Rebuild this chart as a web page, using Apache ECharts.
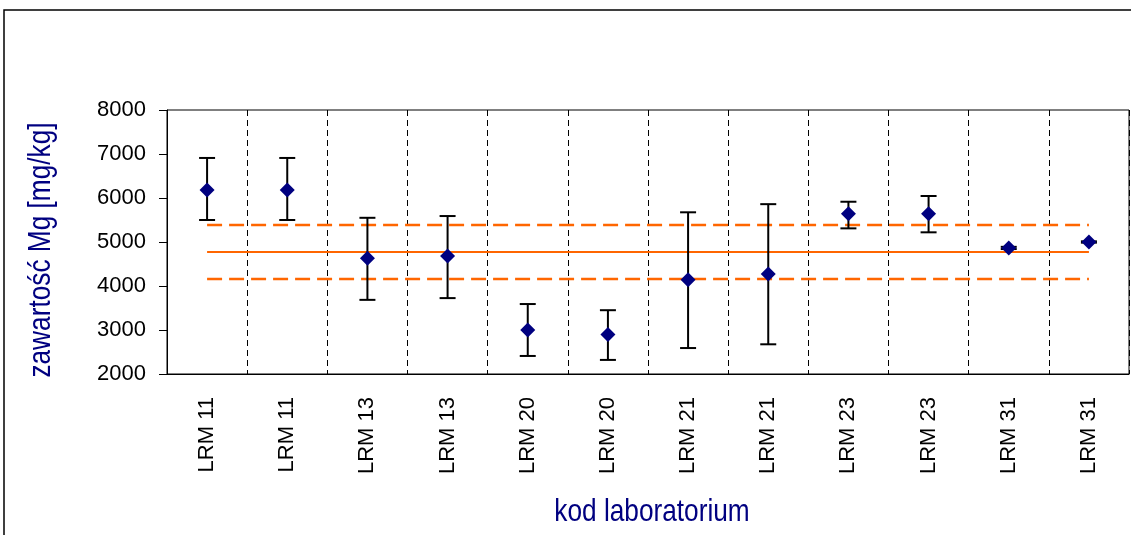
<!DOCTYPE html>
<html>
<head>
<meta charset="utf-8">
<script src="https://cdn.jsdelivr.net/npm/echarts@6/dist/echarts.min.js"></script>
<style>
  html, body { margin: 0; padding: 0; background: #fff; }
  #chart { width: 1131px; height: 535px; }
</style>
</head>
<body>
<div id="chart"></div>
<script>
// kody laboratoriów (oś X)
var labs = ['LRM 11', 'LRM 11', 'LRM 13', 'LRM 13', 'LRM 20', 'LRM 20',
            'LRM 21', 'LRM 21', 'LRM 23', 'LRM 23', 'LRM 31', 'LRM 31'];
// wynik i granice niepewności
var wynik = [6180, 6180, 4630, 4680, 3000, 2900, 4140, 4270, 5640, 5640, 4865, 5000];
var gora  = [6910, 6910, 5550, 5590, 3590, 3450, 5675, 5860, 5915, 6045, 4890, 5015];
var dol   = [5500, 5500, 3685, 3725, 2410, 2320, 2590, 2675, 5310, 5220, 4840, 4985];
// wartość przypisana i jej przedział
var wartoscOdn = 4770;
var granicaG = 5385;
var granicaD = 4160;
var yTicks = [2000, 3000, 4000, 5000, 6000, 7000, 8000];

var FONT = '"Liberation Sans", Arial, sans-serif';
var NAVY = '#000080';
var ORANGE = '#FF6600';

var errData = [];
for (var i = 0; i < labs.length; i++) {
  errData.push([i, dol[i], gora[i]]);
}

var option = {
  animation: false,
  textStyle: { fontFamily: FONT },
  graphic: [
    {
      type: 'rect',
      shape: { x: 4, y: 10, width: 1200, height: 600 },
      style: { fill: 'none', stroke: '#000', lineWidth: 1.5 },
      silent: true
    },
    // tytuły osi (czcionka zwężona jak w oryginale)
    {
      type: 'text',
      x: 41, y: 250,
      rotation: Math.PI / 2,
      scaleX: 0.82,
      style: {
        text: 'zawartość Mg [mg/kg]',
        fill: NAVY, fontSize: 32, fontFamily: FONT,
        align: 'center', verticalAlign: 'middle'
      }
    },
    {
      type: 'text',
      x: 652, y: 512,
      scaleX: 0.82,
      style: {
        text: 'kod laboratorium',
        fill: NAVY, fontSize: 32, fontFamily: FONT,
        align: 'center', verticalAlign: 'middle'
      }
    }
  ],
  grid: {
    left: 167, right: 2, top: 110, bottom: 161,
    show: true, borderColor: '#000', borderWidth: 1, backgroundColor: 'transparent'
  },
  xAxis: {
    type: 'category',
    data: labs,
    boundaryGap: true,
    axisLine: { show: true, lineStyle: { color: '#000', width: 1 } },
    axisTick: { show: true, inside: true, length: 4, interval: 0, lineStyle: { color: '#000' } },
    axisLabel: { interval: 0, rotate: 90, margin: 23, color: '#000', fontSize: 22, fontFamily: FONT },
    splitLine: { show: true, interval: 0, lineStyle: { color: '#000', width: 1, type: [6, 4] } }
  },
  yAxis: {
    type: 'value',
    min: yTicks[0],
    max: yTicks[yTicks.length - 1],
    interval: 1000,
    axisLine: { show: true, lineStyle: { color: '#000', width: 1 } },
    axisTick: { show: true, length: 8, lineStyle: { color: '#000' } },
    axisLabel: {
      margin: 21, color: '#000', fontSize: 22, fontFamily: FONT,
      formatter: function (v) { return String(v); }
    },
    splitLine: { show: false }
  },
  series: [
    {
      name: 'wartość odniesienia',
      type: 'line',
      data: labs.map(function () { return wartoscOdn; }),
      symbol: 'none',
      lineStyle: { color: ORANGE, width: 2 },
      z: 2
    },
    {
      name: 'granica górna',
      type: 'line',
      data: labs.map(function () { return granicaG; }),
      symbol: 'none',
      lineStyle: { color: ORANGE, width: 2.5, type: [15, 7] },
      z: 2
    },
    {
      name: 'granica dolna',
      type: 'line',
      data: labs.map(function () { return granicaD; }),
      symbol: 'none',
      lineStyle: { color: ORANGE, width: 2.5, type: [15, 7] },
      z: 2
    },
    {
      name: 'niepewność',
      type: 'custom',
      data: errData,
      z: 3,
      renderItem: function (params, api) {
        var x = api.value(0);
        var lo = api.coord([x, api.value(1)]);
        var hi = api.coord([x, api.value(2)]);
        var half = 8;
        var st = { stroke: '#000', lineWidth: 2 };
        return {
          type: 'group',
          children: [
            { type: 'line', shape: { x1: hi[0], y1: hi[1], x2: lo[0], y2: lo[1] }, style: st },
            { type: 'line', shape: { x1: hi[0] - half, y1: hi[1], x2: hi[0] + half, y2: hi[1] }, style: st },
            { type: 'line', shape: { x1: lo[0] - half, y1: lo[1], x2: lo[0] + half, y2: lo[1] }, style: st }
          ]
        };
      }
    },
    {
      name: 'wynik',
      type: 'scatter',
      data: wynik,
      symbol: 'diamond',
      symbolSize: 15,
      itemStyle: { color: NAVY, opacity: 1 },
      z: 4
    }
  ]
};

echarts.init(document.getElementById('chart')).setOption(option);
</script>
</body>
</html>
